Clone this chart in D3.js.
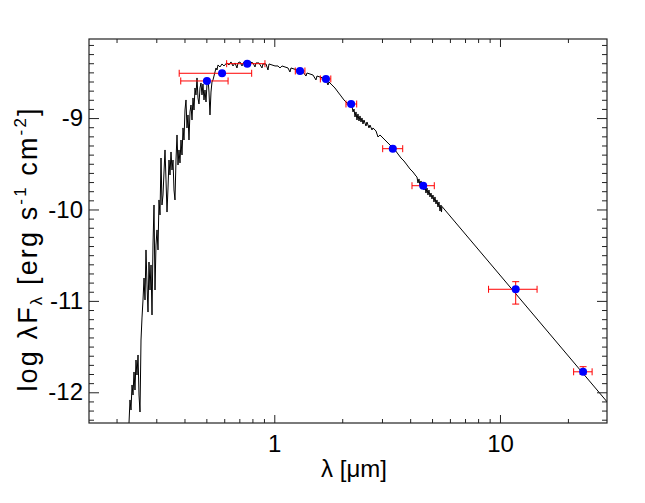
<!DOCTYPE html>
<html><head><meta charset="utf-8">
<script src="https://cdn.jsdelivr.net/npm/d3@7"></script>
<style>
body{margin:0;background:#fff;}
text{font-family:"Liberation Sans",Arial,Helvetica,sans-serif;}
</style>
</head><body>
<svg id="c" width="645" height="503"></svg>
<script>
// Model spectrum (wavelength in micron, log lambda*F_lambda)
const specWave=[0.2248,0.2271,0.2294,0.2318,0.2342,0.2366,0.2390,0.2414,0.2439,0.2464,0.2490,0.2515,0.2541,0.2567,0.2593,0.2620,0.2647,0.2674,0.2701,0.2729,0.2757,0.2785,0.2814,0.2843,0.2872,0.2901,0.2931,0.2961,0.2991,0.3022,0.3053,0.3084,0.3116,0.3148,0.3180,0.3213,0.3246,0.3279,0.3313,0.3347,0.3381,0.3415,0.3450,0.3486,0.3522,0.3558,0.3594,0.3631,0.3668,0.3706,0.3744,0.3782,0.3821,0.3860,0.3900,0.3940,0.3980,0.4021,0.4062,0.4104,0.4146,0.4188,0.4231,0.4275,0.4319,0.4363,0.4408,0.4453,0.4498,0.4545,0.4591,0.4638,0.4686,0.4734,0.4782,0.4831,0.4881,0.4931,0.4982,0.5033,0.5084,0.5136,0.5189,0.5242,0.5296,0.5350,0.5405,0.5461,0.5517,0.5573,0.5630,
0.5746,0.5865,0.5986,0.6153,0.6299,0.6429,0.6561,0.6697,0.6835,0.6905,0.7047,0.7193,0.7341,0.7568,0.7726,0.7805,0.8047,0.8214,0.8297,0.8554,0.8820,0.8910,0.9189,0.9378,0.9474,0.9768,1.0072,1.0385,1.0599,1.0818,1.1155,1.1501,1.1738,1.1858,1.2226,1.2606,1.2998,1.3401,1.3818,1.3959,1.4393,1.4840,1.5301,1.5457,1.5937,1.6432,1.6943,1.7291,1.7469,1.8011,1.8571,1.9148,1.9743,2.0357,2.0989,2.1642,2.2090,2.2326,2.2554,2.2786,2.3014,2.3249,2.3486,2.3730,2.3973,2.4217,2.4469,2.4717,2.4969,2.5486,2.5746,2.6278,2.6546,2.7096,2.7372,2.8224,2.8808,2.9399,3.0312,3.1255,3.2227,3.3229,3.4262,3.5328,3.6427,3.7559,3.8726,3.9921,4.1163,4.2443,4.2885,4.3322,4.3764,4.4220,4.4668,4.5123,4.5583,4.6058,4.6527,4.7000,4.7490,4.7973,4.8462,4.8967,4.9465,4.9969,5.0478,5.1004,5.1523,5.2048,5.2590,5.3126,5.3667,5.4226,5.4778,5.5056,5.5335,30.0];
const specFlux=[-12.522,-12.336,-12.084,-12.194,-11.920,-12.030,-11.778,-11.975,-11.647,-11.811,-11.592,-12.030,-12.216,-11.428,-11.187,-10.990,-10.750,-10.990,-10.443,-10.826,-11.122,-10.575,-10.881,-10.607,-11.154,-10.389,-9.951,-10.881,-10.389,-10.224,-10.443,-9.896,-10.060,-9.437,-9.951,-9.842,-9.590,-9.349,-9.677,-10.028,-9.765,-9.459,-9.623,-9.371,-9.568,-9.459,-9.787,-9.896,-9.459,-9.185,-9.513,-9.349,-9.491,-9.240,-9.404,-9.108,-9.240,-8.912,-8.802,-9.108,-8.966,-9.240,-8.933,-8.857,-9.021,-8.780,-8.912,-8.671,-8.747,-8.561,-8.780,-8.846,-8.671,-8.616,-8.747,-8.627,-8.802,-8.693,-8.824,-8.627,-8.561,-8.715,-8.966,-8.715,-8.605,-8.583,-8.540,-8.496,-8.452,-8.474,-8.419,
-8.441,-8.408,-8.430,-8.397,-8.419,-8.386,-8.430,-8.397,-8.452,-8.397,-8.386,-8.430,-8.386,-8.386,-8.419,-8.386,-8.397,-8.441,-8.397,-8.397,-8.452,-8.408,-8.408,-8.474,-8.408,-8.419,-8.430,-8.430,-8.452,-8.430,-8.441,-8.452,-8.496,-8.452,-8.463,-8.474,-8.485,-8.496,-8.540,-8.507,-8.518,-8.529,-8.583,-8.540,-8.551,-8.561,-8.583,-8.638,-8.605,-8.638,-8.671,-8.715,-8.758,-8.802,-8.835,-8.846,-8.868,-8.933,-8.901,-8.988,-8.933,-9.021,-8.955,-9.032,-8.977,-9.043,-8.999,-9.065,-9.021,-9.087,-9.043,-9.108,-9.076,-9.130,-9.108,-9.141,-9.207,-9.185,-9.218,-9.251,-9.284,-9.316,-9.349,-9.393,-9.437,-9.470,-9.513,-9.557,-9.590,-9.634,-9.645,-9.710,-9.666,-9.743,-9.688,-9.765,-9.710,-9.787,-9.743,-9.820,-9.765,-9.842,-9.787,-9.863,-9.820,-9.885,-9.842,-9.918,-9.863,-9.940,-9.896,-9.973,-9.918,-10.017,-9.951,-10.028,-9.967,-12.112];

// Photometry
const bandNames=["BP","G","RP","J","H","Ks","W1","W2","W3","W4"];
const photWave=[0.503,0.587,0.759,1.30,1.694,2.19,3.35,4.57,11.74,23.35];
const photFlux=[-8.594,-8.510,-8.405,-8.485,-8.572,-8.846,-9.335,-9.740,-10.873,-11.776];
const photWaveLo=[0.385,0.379,0.615,1.239,1.60,2.078,3.022,4.075,8.9,21.2];
const photWaveHi=[0.624,0.794,0.909,1.367,1.78,2.318,3.707,5.116,14.6,25.6];
const photFluxLo=[-8.604,-8.520,-8.415,-8.495,-8.582,-8.856,-9.345,-9.750,-11.035,-11.805];
const photFluxHi=[-8.584,-8.500,-8.395,-8.475,-8.562,-8.836,-9.325,-9.730,-10.790,-11.720];

// Axis ticks
const xMajorTicks=[1,10];
const xMinorTicks=[0.2,0.3,0.4,0.5,0.6,0.7,0.8,0.9,2,3,4,5,6,7,8,9,20];
const yMajorTicks=[-12,-11,-10,-9];
const yMinorTicks=[-12.3,-12.2,-12.1,-11.9,-11.8,-11.7,-11.6,-11.5,-11.4,-11.3,-11.2,-11.1,-10.9,-10.8,-10.7,-10.6,-10.5,-10.4,-10.3,-10.2,-10.1,-9.9,-9.8,-9.7,-9.6,-9.5,-9.4,-9.3,-9.2,-9.1,-8.9,-8.8,-8.7,-8.6,-8.5,-8.4,-8.3,-8.2];

const L=89,R=607,T=39,B=423;
const svg=d3.select("#c");
const x=d3.scaleLog().domain([0.151,29.8]).range([L,R]);
const y=d3.scaleLinear().domain([-12.336,-8.135]).range([B,T]);

svg.append("defs").append("clipPath").attr("id","clip")
  .append("rect").attr("x",L).attr("y",T).attr("width",R-L).attr("height",B-T);

// spectrum
const spec=specWave.map((w,i)=>[w,specFlux[i]]);
svg.append("path").datum(spec)
  .attr("clip-path","url(#clip)")
  .attr("fill","none").attr("stroke","#000").attr("stroke-width",1)
  .attr("stroke-linejoin","miter")
  .attr("d",d3.line().x(d=>x(d[0])).y(d=>y(d[1])));

// error bars
const eb=svg.append("g").attr("stroke","#ff0000").attr("stroke-width",1).attr("fill","none");
const cap=3.5;
photWave.forEach((w,i)=>{
  const cx=x(w),cy=y(photFlux[i]);
  const x0=x(photWaveLo[i]),x1=x(photWaveHi[i]);
  const y0=y(photFluxLo[i]),y1=y(photFluxHi[i]);
  eb.append("line").attr("x1",x0).attr("x2",x1).attr("y1",cy).attr("y2",cy);
  eb.append("line").attr("x1",x0).attr("x2",x0).attr("y1",cy-cap).attr("y2",cy+cap);
  eb.append("line").attr("x1",x1).attr("x2",x1).attr("y1",cy-cap).attr("y2",cy+cap);
  eb.append("line").attr("x1",cx).attr("x2",cx).attr("y1",y0).attr("y2",y1);
  eb.append("line").attr("x1",cx-cap).attr("x2",cx+cap).attr("y1",y0).attr("y2",y0);
  eb.append("line").attr("x1",cx-cap).attr("x2",cx+cap).attr("y1",y1).attr("y2",y1);
});
svg.append("g").selectAll("circle").data(photWave).join("circle")
  .attr("cx",(d)=>x(d)).attr("cy",(d,i)=>y(photFlux[i])).attr("r",4).attr("fill","#0000ff");

// axes
function style(g){g.select(".domain").remove();g.selectAll(".tick line").attr("stroke","#222").attr("stroke-width",1);
  g.selectAll("text").attr("font-size",24).attr("fill","#000").attr("font-family","Liberation Sans, Arial, sans-serif");}
const fmt=d=>String(d);
svg.append("g").attr("transform",`translate(0,${B})`)
  .call(d3.axisBottom(x).tickValues(xMajorTicks).tickFormat(fmt).tickSize(-8).tickPadding(12)).call(style);
svg.append("g").attr("transform",`translate(0,${B})`)
  .call(d3.axisBottom(x).tickValues(xMinorTicks).tickFormat("").tickSize(-4)).call(style);
svg.append("g").attr("transform",`translate(0,${T})`)
  .call(d3.axisTop(x).tickValues(xMajorTicks).tickFormat("").tickSize(-8)).call(style);
svg.append("g").attr("transform",`translate(0,${T})`)
  .call(d3.axisTop(x).tickValues(xMinorTicks).tickFormat("").tickSize(-4)).call(style);
svg.append("g").attr("transform",`translate(${L},0)`)
  .call(d3.axisLeft(y).tickValues(yMajorTicks).tickFormat(fmt).tickSize(-10).tickPadding(6)).call(style);
svg.append("g").attr("transform",`translate(${L},0)`)
  .call(d3.axisLeft(y).tickValues(yMinorTicks).tickFormat("").tickSize(-5)).call(style);
svg.append("g").attr("transform",`translate(${R},0)`)
  .call(d3.axisRight(y).tickValues(yMajorTicks).tickFormat("").tickSize(-10)).call(style);
svg.append("g").attr("transform",`translate(${R},0)`)
  .call(d3.axisRight(y).tickValues(yMinorTicks).tickFormat("").tickSize(-5)).call(style);

svg.append("rect").attr("x",L).attr("y",T).attr("width",R-L).attr("height",B-T)
  .attr("fill","none").attr("stroke","#222").attr("stroke-width",1.2);

// titles
svg.append("text").attr("x",(L+R)/2+6).attr("y",477).attr("text-anchor","middle")
  .attr("font-size",24).text("λ [μm]");
const yt=svg.append("text").attr("transform","translate(37,250) rotate(-90)")
  .attr("text-anchor","middle").attr("font-size",27)
  .attr("textLength",283).attr("lengthAdjust","spacing");
yt.append("tspan").text("log λF");
yt.append("tspan").attr("font-size",17).attr("dy",5).text("λ");
yt.append("tspan").attr("dy",-5).text(" [erg s");
yt.append("tspan").attr("font-size",17).attr("dy",-11).text("-1");
yt.append("tspan").attr("dy",11).text(" cm");
yt.append("tspan").attr("font-size",17).attr("dy",-11).text("-2");
yt.append("tspan").attr("dy",11).text("]");
</script>
</body></html>
